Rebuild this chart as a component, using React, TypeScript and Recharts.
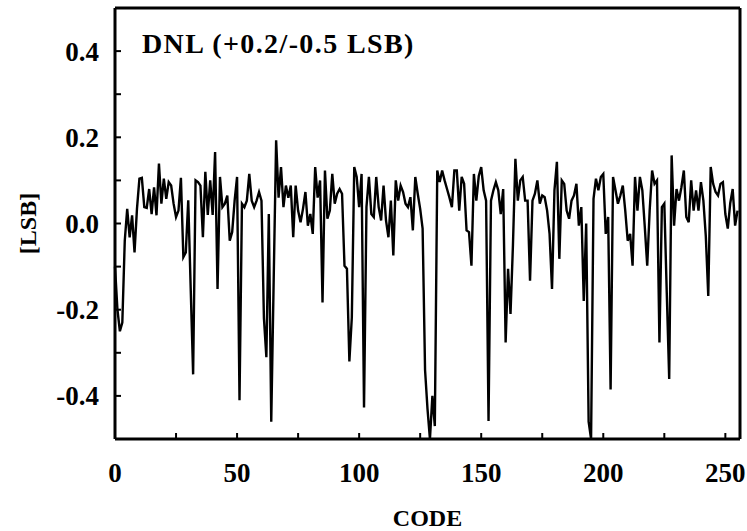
import { LineChart, Line, XAxis, YAxis } from "recharts";

// DNL per output code (LSB)
const dnl = [
  -0.1, -0.2, -0.25, -0.23, -0.04, 0.034, -0.032, 0.019, -0.067, 0.034,
  0.104, 0.106, 0.038, 0.036, 0.08, 0.022, 0.084, 0.019, 0.139, 0.046,
  0.104, 0.057, 0.096, 0.088, 0.046, 0.015, 0.03, 0.106, -0.078, -0.067,
  0.054, -0.15, -0.35, 0.1, 0.096, 0.088, -0.032, 0.12, 0.02, 0.1,
  0.02, 0.166, -0.152, 0.108, 0.038, 0.046, 0.065, -0.04, -0.02, 0.053,
  0.108, -0.41, 0.046, 0.038, 0.053, 0.115, 0.053, 0.038, 0.053, 0.073,
  0.053, -0.22, -0.31, 0.022, -0.46, -0.13, 0.193, 0.06, 0.131, 0.038,
  0.088, 0.06, 0.088, -0.032, 0.088, 0.03, 0.003, 0.034, 0.073, -0.005,
  0.022, -0.024, 0.131, 0.06, 0.1, -0.183, 0.123, 0.011, 0.03, 0.115,
  0.046, 0.069, 0.08, 0.069, -0.098, -0.105, -0.32, -0.218, 0.131, 0.108,
  0.038, 0.115, -0.427, 0.038, 0.108, 0.022, 0.015, 0.108, 0.038, 0.007,
  0.088, 0.007, -0.032, 0.053, -0.074, 0.1, 0.053, 0.088, 0.073, 0.046,
  0.038, 0.061, -0.016, 0.108, 0.069, 0.034, -0.012, -0.34, -0.43, -0.5,
  -0.4, -0.47, 0.123, 0.096, 0.123, 0.1, 0.08, 0.06, 0.038, 0.123,
  0.123, 0.03, 0.108, 0.092, -0.016, -0.02, -0.098, 0.115, 0.053, 0.11,
  0.131, 0.077, 0.053, -0.458, 0.053, 0.077, 0.096, 0.077, 0.022, 0.08,
  -0.276, -0.105, -0.21, -0.05, 0.15, 0.053, 0.1, 0.108, 0.053, 0.053,
  -0.133, 0.053, 0.069, 0.1, 0.046, 0.065, 0.061, 0.03, -0.024, -0.152,
  0.077, 0.143, -0.082, 0.1, 0.092, 0.03, 0.011, 0.053, 0.065, 0.092,
  -0.005, 0.038, -0.18, 0.0, -0.46, -0.5, 0.057, 0.104, 0.077, 0.108,
  0.115, -0.024, 0.015, -0.385, 0.108, 0.077, 0.046, 0.065, 0.088, 0.03,
  -0.04, -0.024, -0.098, 0.108, 0.03, 0.108, 0.077, -0.008, -0.098, 0.03,
  0.123, 0.092, 0.1, -0.276, 0.038, 0.046, -0.16, -0.361, 0.158, -0.005,
  0.08, 0.053, 0.084, 0.123, 0.015, 0.003, 0.1, 0.03, 0.077, 0.03,
  0.096, 0.053, -0.03, -0.168, 0.131, 0.092, 0.073, 0.065, 0.092, 0.096,
  0.022, -0.012, 0.047, 0.08, -0.005, 0.03,
];

const xTicks = [0, 25, 50, 75, 100, 125, 150, 175, 200, 225, 250];
const xLabelled = [0, 50, 100, 150, 200, 250];
const yTicks = [-0.4, -0.3, -0.2, -0.1, 0, 0.1, 0.2, 0.3, 0.4];
const yLabelled = [-0.4, -0.2, 0, 0.2, 0.4];

const title = "DNL (+0.2/-0.5 LSB)";

const data = dnl.map((v, i) => ({ code: i, dnl: v }));

const font = "'Liberation Serif', 'Times New Roman', serif";
const tickStyle = { fill: "#000", fontSize: 27, fontWeight: 700, fontFamily: font };
const frame = { stroke: "#000", strokeWidth: 3 };
const tickLine = { stroke: "#000", strokeWidth: 2 };

export default function App() {
  return (
    <div style={{ position: "absolute", left: 0, top: 0, background: "#fff" }}>
      <LineChart width={747} height={531} data={data}
        margin={{ top: 7, right: 6, bottom: 0, left: 0 }}>
        <XAxis
          xAxisId="b" dataKey="code" type="number" domain={[0, 256]}
          ticks={xTicks} interval={0} height={92}
          axisLine={frame} tickLine={tickLine} tickSize={-6} tickMargin={30}
          tick={tickStyle}
          tickFormatter={(v) => (xLabelled.includes(v) ? String(v) : "")}
          label={{
            content: ({ viewBox }: any) => (
              <text x={viewBox.x + viewBox.width / 2} y={viewBox.y + viewBox.height - 5}
                textAnchor="middle" fontSize={24} fontWeight={700} fontFamily={font}>CODE</text>
            ),
          }}
        />
        <XAxis
          xAxisId="t" dataKey="code" type="number" domain={[0, 256]} orientation="top"
          ticks={xTicks} interval={0} height={1}
          axisLine={frame} tickLine={tickLine} tickSize={-6} tick={false}
          label={{
            content: ({ viewBox }: any) => (
              <text x={viewBox.x + 27} y={viewBox.y + 46} fontSize={28} fontWeight={700}
                fontFamily={font} letterSpacing={1.4}>{title}</text>
            ),
          }}
        />
        <YAxis
          yAxisId="l" type="number" domain={[-0.5, 0.5]} allowDataOverflow
          ticks={yTicks} interval={0} width={115}
          axisLine={frame} tickLine={tickLine} tickSize={-6} tickMargin={22}
          tick={tickStyle}
          tickFormatter={(v) => (yLabelled.some((t) => Math.abs(t - v) < 1e-9) ? v.toFixed(1) : "")}
          label={{
            content: ({ viewBox }: any) => {
              const x = viewBox.x + 28;
              const y = viewBox.y + viewBox.height / 2;
              return (
                <text x={x} y={y} transform={`rotate(-90, ${x}, ${y})`} textAnchor="middle"
                  dominantBaseline="central" fontSize={24} fontWeight={700} fontFamily={font}>[LSB]</text>
              );
            },
          }}
        />
        <YAxis
          yAxisId="r" orientation="right" type="number" domain={[-0.5, 0.5]} allowDataOverflow
          ticks={yTicks} interval={0} width={1}
          axisLine={frame} tickLine={tickLine} tickSize={-6} tick={false}
        />
        <Line xAxisId="b" yAxisId="l" type="linear" dataKey="dnl" stroke="#000"
          strokeWidth={2.4} dot={false} isAnimationActive={false} />
      </LineChart>
    </div>
  );
}
